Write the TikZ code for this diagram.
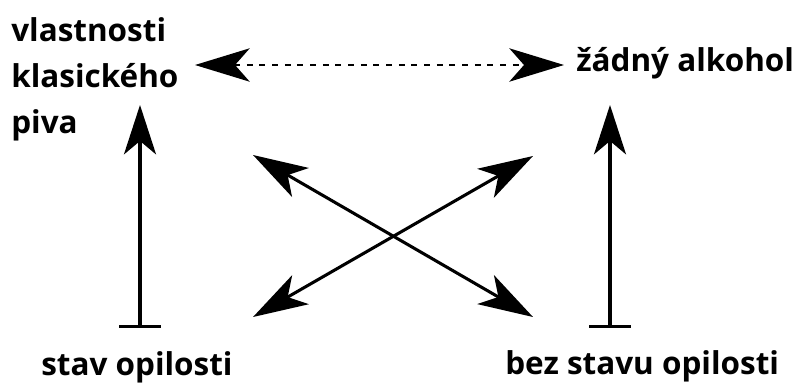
\documentclass[tikz,border=0pt]{standalone}
\usepackage{fontspec}
\setmainfont{Open Sans}
\usetikzlibrary{arrows.meta}
\tikzset{
  lbl/.style={inner sep=0pt, font=\fontsize{23.6}{34.5}\selectfont\bfseries, text=black},
  twotip/.style={{Stealth[length=41pt,width=25pt,inset=11pt]}-{Stealth[length=41pt,width=25pt,inset=11pt]}},
  solid2/.style={line width=2.3pt},
  dotline/.style={line width=1.6pt, dash pattern=on 4.5pt off 5pt},
  bartip/.style={{Bar[width=31pt,line width=2.3pt]}-{Stealth[length=37pt,width=24pt,inset=10pt]}}
}
\begin{document}
\begin{tikzpicture}[x=0.75pt,y=-0.75pt]
\useasboundingbox (0,0) rectangle (795,383);
% labels
\node[lbl, anchor=base west] (vl1) at (11,41) {vlastnosti};
\node[lbl, anchor=base west] (vl2) at (11,87) {klasického};
\node[lbl, anchor=base west] (vl3) at (11,133) {piva};
\node[lbl, anchor=base west] (za) at (576,71) {žádný alkohol};
\node[lbl, anchor=base west] (so) at (41,375) {stav opilosti};
\node[lbl, anchor=base west] (bs) at (505,374) {bez stavu opilosti};
% arrow end points
\coordinate (hl) at (195,65);
\coordinate (hr) at (564,65);
\coordinate (lt) at (140,105);
\coordinate (lb) at (140,328);
\coordinate (rt) at (610,105);
\coordinate (rb) at (610,328);
\coordinate (ul) at (253,155);
\coordinate (ur) at (533,156);
\coordinate (dl) at (253,317);
\coordinate (dr) at (533,317);
% connectors
\draw[dotline, twotip] (hl) -- (hr);
\draw[solid2, bartip] (lb) -- (lt);
\draw[solid2, bartip] (rb) -- (rt);
\draw[solid2, twotip] (ul) -- (dr);
\draw[solid2, twotip] (dl) -- (ur);
\end{tikzpicture}
\end{document}
